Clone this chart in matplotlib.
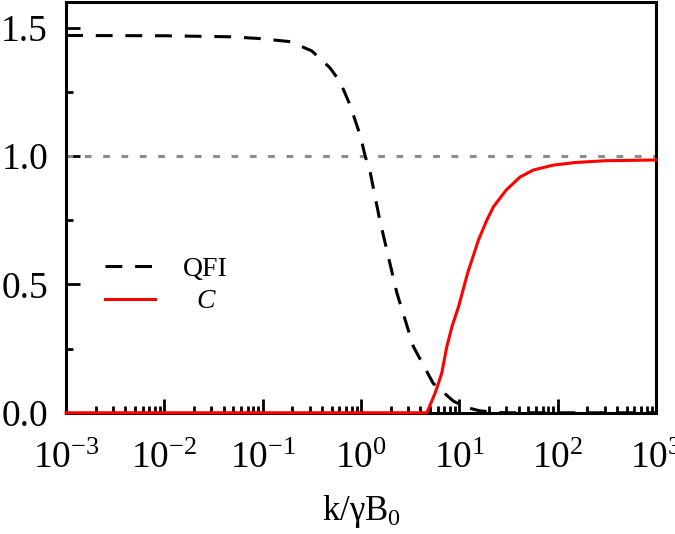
import matplotlib
matplotlib.use("Agg")
from matplotlib import pyplot as plt
import matplotlib.ticker as mtick

plt.rcParams['font.family'] = ['Liberation Serif', 'DejaVu Serif']
plt.rcParams['mathtext.fontset'] = 'custom'
plt.rcParams['mathtext.rm'] = 'Liberation Serif'
plt.rcParams['mathtext.it'] = 'Liberation Serif:italic'

# QFI curve (dashed black)
qfi_x = [0.001, 0.01, 0.047, 0.094, 0.19, 0.315, 0.48, 0.61, 0.77, 0.98, 1.1,
         1.24, 1.55, 2.31, 3.4, 5.4, 8.7, 12, 16, 22, 30, 100, 1000]
qfi_y = [1.47, 1.469, 1.465, 1.458, 1.446, 1.41, 1.345, 1.29, 1.2, 1.08, 1.0,
         0.935, 0.75, 0.467, 0.258, 0.115, 0.045, 0.02, 0.008, 0.002, 0.0, 0.0,
         0.0]

# C curve (solid red)
c_x = [0.001, 4.66, 5.66, 6.6, 7.44, 8.4, 9.8, 12.1, 15.6, 19.0, 22.2, 29.9,
       41.5, 56.6, 90, 150, 300, 1000]
c_y = [0.0, 0.0, 0.077, 0.154, 0.258, 0.336, 0.414, 0.544, 0.673, 0.751, 0.803,
       0.868, 0.919, 0.946, 0.965, 0.975, 0.982, 0.985]

ref_level = 1.0

fig = plt.figure(figsize=(6.75, 5.34), dpi=100)
ax = fig.add_axes([0.098, 0.227, 0.874, 0.769])

ax.axhline(ref_level, color='#8c8c8c', lw=2.2, dashes=(2.2, 3.8))
ax.plot(qfi_x, qfi_y, color='black', lw=2.2, dashes=(5.5, 4.2), label='QFI')
ax.plot(c_x, c_y, color='red', lw=2.2, label='  $\\mathit{C}$', clip_on=False, zorder=5)

ax.set_xscale('log')
ax.set_xlim(1e-3, 1e3)
ax.set_ylim(0, 1.6)
ax.set_yticks([0.0, 0.5, 1.0, 1.5])
ax.yaxis.set_minor_locator(mtick.MultipleLocator(0.25))
ax.yaxis.set_major_formatter(mtick.FormatStrFormatter('%.1f'))
ax.xaxis.set_major_locator(mtick.LogLocator(base=10, numticks=10))
ax.xaxis.set_minor_locator(mtick.LogLocator(base=10, subs=range(2, 10), numticks=100))
ax.xaxis.set_minor_formatter(mtick.NullFormatter())

for s in ax.spines.values():
    s.set_linewidth(2.2)
ax.tick_params(which='both', direction='in', width=2, top=False, right=False)
ax.tick_params(which='major', length=10, labelsize=27)
ax.tick_params(which='minor', length=5)
ax.tick_params(axis='x', which='major', pad=21)
ax.tick_params(axis='y', which='major', pad=13)

ax.set_xlabel('k/γB$_0$', fontsize=25, labelpad=12)

ax.legend(loc='center left', bbox_to_anchor=(0.066, 0.31), frameon=False,
          fontsize=20, handlelength=1.8, labelspacing=0.25, borderpad=0,
          borderaxespad=0, handletextpad=1.0)

fig.savefig('out.png', dpi=100)
